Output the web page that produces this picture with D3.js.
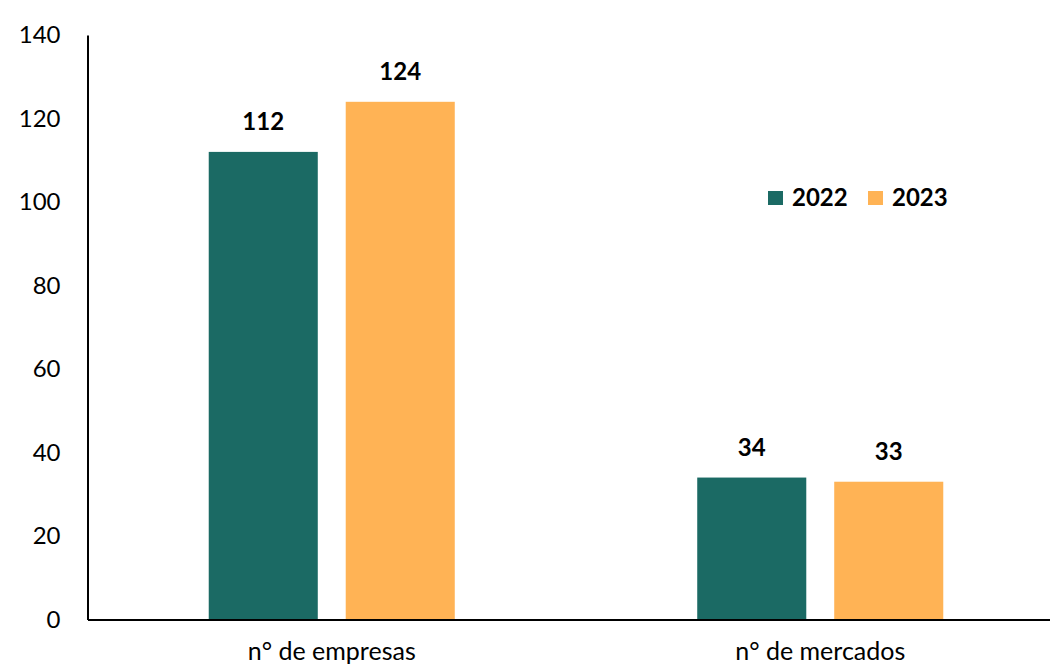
<!DOCTYPE html>
<html>
<head>
<meta charset="utf-8">
<script src="https://cdn.jsdelivr.net/npm/d3@7.9.0/dist/d3.min.js"></script>
<style>
  html, body { margin: 0; padding: 0; background: #fff; overflow: hidden; }
  svg { display: block; font-family: Lato, "Open Sans", sans-serif; }
</style>
</head>
<body>
<svg id="chart" width="1050" height="667"></svg>
<script>
// data
const categories = ["n° de empresas", "n° de mercados"];
const seriesNames = ["2022", "2023"];
const values2022 = [112, 34];
const values2023 = [124, 33];
const yTicks = [0, 20, 40, 60, 80, 100, 120, 140];
const colors = ["#1b6a64", "#ffb355"];

const rows = categories.map((c, i) => ({ cat: c, "2022": values2022[i], "2023": values2023[i] }));

const svg = d3.select("#chart");
const plotLeft = 87.5, plotRight = 1064.5, plotTop = 35, plotBottom = 619.5;

const x0 = d3.scaleBand()
  .domain(categories)
  .range([plotLeft, plotRight]);

const x1 = d3.scaleBand()
  .domain(seriesNames)
  .range([0, x0.bandwidth()])
  .paddingInner(0.204)
  .paddingOuter(0.885);

const y = d3.scaleLinear()
  .domain([0, 140])
  .range([plotBottom, plotTop]);

const color = d3.scaleOrdinal().domain(seriesNames).range(colors);

// bars
const groups = svg.append("g")
  .selectAll("g")
  .data(rows)
  .enter()
  .append("g")
  .attr("transform", d => `translate(${x0(d.cat)},0)`);

groups.selectAll("rect")
  .data(d => seriesNames.map(k => ({ key: k, value: d[k] })))
  .enter()
  .append("rect")
  .attr("x", d => x1(d.key))
  .attr("y", d => y(d.value))
  .attr("width", x1.bandwidth())
  .attr("height", d => y(0) - y(d.value))
  .attr("fill", d => color(d.key));

// value labels
groups.selectAll("text")
  .data(d => seriesNames.map(k => ({ key: k, value: d[k] })))
  .enter()
  .append("text")
  .attr("x", d => x1(d.key) + x1.bandwidth() / 2)
  .attr("y", d => y(d.value) - 30)
  .attr("dy", "0.35em")
  .attr("text-anchor", "middle")
  .style("font-size", "24px")
  .style("font-weight", "bold")
  .attr("fill", "#000")
  .text(d => d.value);

// Y axis
const yAxis = svg.append("g")
  .attr("transform", `translate(${plotLeft},0)`)
  .call(d3.axisLeft(y).tickValues(yTicks).tickSize(0).tickPadding(27));
yAxis.select(".domain").attr("stroke", "#000").attr("stroke-width", 2);
yAxis.selectAll("text")
  .style("font-size", "24px")
  .style("font-family", "Lato, 'Open Sans', sans-serif")
  .attr("fill", "#000");

// X axis
const xAxis = svg.append("g")
  .attr("transform", `translate(0,${plotBottom})`)
  .call(d3.axisBottom(x0).tickSize(0).tickPadding(23));
xAxis.select(".domain").attr("stroke", "#000").attr("stroke-width", 2);
xAxis.selectAll("text")
  .style("font-size", "25px")
  .style("font-family", "Lato, 'Open Sans', sans-serif")
  .attr("fill", "#000");

// Legend
const legend = svg.append("g").attr("transform", "translate(768,198)");
const legendX = [0, 100];
const items = legend.selectAll("g")
  .data(seriesNames)
  .enter()
  .append("g")
  .attr("transform", (d, i) => `translate(${legendX[i]},0)`);
items.append("rect")
  .attr("x", 0)
  .attr("y", -7)
  .attr("width", 15)
  .attr("height", 14)
  .attr("fill", d => color(d));
items.append("text")
  .attr("x", 24)
  .attr("dy", "0.35em")
  .style("font-size", "24px")
  .style("font-weight", "bold")
  .text(d => d);
</script>
</body>
</html>
